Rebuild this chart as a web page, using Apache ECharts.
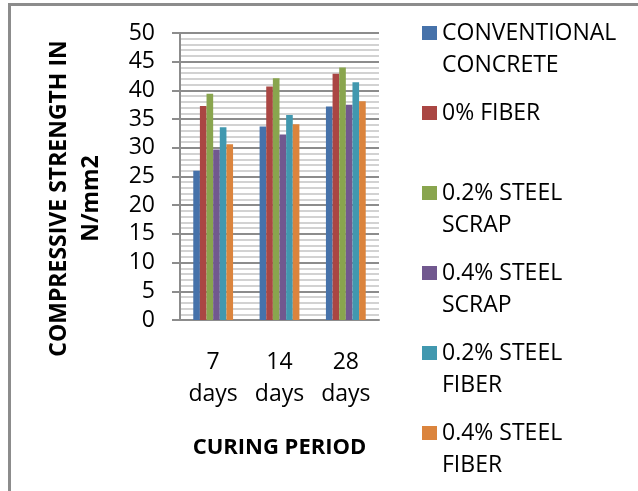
<!DOCTYPE html>
<html>
<head>
<meta charset="utf-8">
<script src="https://cdn.jsdelivr.net/npm/echarts@6/dist/echarts.min.js"></script>
<style>
html,body{margin:0;padding:0;background:#fff;}
#chart{width:638px;height:491px;}
</style>
</head>
<body>
<div id="chart"></div>
<script>
// ---- data ----
var categories = ['7\ndays', '14\ndays', '28\ndays'];
var seriesNames = ['CONVENTIONAL\nCONCRETE', '0% FIBER', '0.2% STEEL\nSCRAP', '0.4% STEEL\nSCRAP', '0.2% STEEL\nFIBER', '0.4% STEEL\nFIBER'];
var conventional = [26.0, 33.7, 37.2];
var fiber0 = [37.3, 40.7, 42.9];
var scrap02 = [39.4, 42.1, 44.0];
var scrap04 = [29.7, 32.3, 37.5];
var fiber02 = [33.6, 35.7, 41.4];
var fiber04 = [30.6, 34.1, 38.1];
var yTicks = [0, 5, 10, 15, 20, 25, 30, 35, 40, 45, 50];

var values = [conventional, fiber0, scrap02, scrap04, fiber02, fiber04];
var colors = ['#4672AA', '#AA4643', '#89A54E', '#71588F', '#4198AF', '#DB843D'];
var FONT = '"Open Sans", sans-serif';

var chart = echarts.init(document.getElementById('chart'), null, {renderer: 'canvas'});

var series = seriesNames.map(function (n, i) {
  return {
    name: n,
    type: 'bar',
    data: values[i],
    itemStyle: {color: colors[i]},
    barGap: '0%',
    barCategoryGap: '40%'
  };
});

// legend rows: first line with the colour key, a second keyless row for wrapped names
var iconCenters = [33, 113, 193, 273, 353, 433];
var LINE = 32;
var legendText = {fontFamily: FONT, fontSize: 23, lineHeight: LINE, color: '#000'};
var legends = [];
seriesNames.forEach(function (n, i) {
  var parts = n.split('\n');
  parts.forEach(function (p, k) {
    legends.push({
      data: [n],
      left: 422,
      top: iconCenters[i] - LINE / 2 + k * LINE,
      orient: 'vertical',
      padding: 0,
      itemWidth: 15,
      itemHeight: 14,
      icon: k === 0 ? 'rect' : 'none',
      selectedMode: false,
      formatter: (function (idx) {
        return function (name) { return name.split('\n')[idx]; };
      })(k),
      textStyle: legendText
    });
  });
});

chart.setOption({
  backgroundColor: '#fff',
  animation: false,
  grid: {left: 180, right: 259, top: 33, bottom: 171, containLabel: false, outerBoundsMode: 'none'},
  legend: legends,
  xAxis: {
    type: 'category',
    data: categories,
    name: 'CURING PERIOD',
    nameLocation: 'middle',
    nameGap: 113,
    nameTextStyle: {fontFamily: FONT, fontSize: 22, fontWeight: 'bold', color: '#000', lineHeight: 30},
    axisLine: {lineStyle: {color: '#8c8c8c', width: 2}},
    axisTick: {show: false},
    axisLabel: {fontFamily: FONT, fontSize: 23, lineHeight: 32, color: '#000', margin: 26}
  },
  yAxis: {
    type: 'value',
    min: yTicks[0],
    max: yTicks[yTicks.length - 1],
    interval: yTicks[1] - yTicks[0],
    name: 'COMPRESSIVE STRENGTH IN\nN/mm2',
    nameLocation: 'middle',
    nameRotate: 90,
    nameGap: 73,
    nameTextStyle: {fontFamily: FONT, fontSize: 23, fontWeight: 'bold', color: '#000', lineHeight: 32, padding: [0, 44, 0, 0]},
    axisLine: {show: true, lineStyle: {color: '#8c8c8c', width: 2}},
    axisTick: {show: true, inside: false, length: 8, lineStyle: {color: '#8c8c8c', width: 2}},
    axisLabel: {fontFamily: FONT, fontSize: 23, color: '#000', margin: 25},
    splitLine: {show: true, lineStyle: {color: '#8c8c8c', width: 2}},
    minorTick: {show: false, splitNumber: 5},
    minorSplitLine: {show: true, lineStyle: {color: '#c4c4c4', width: 1.5}}
  },
  graphic: [{
    type: 'rect',
    silent: true,
    shape: {x: 9.5, y: 4.5, width: 700, height: 600},
    style: {fill: 'none', stroke: '#8c8c8c', lineWidth: 3}
  }],
  series: series
});
</script>
</body>
</html>
